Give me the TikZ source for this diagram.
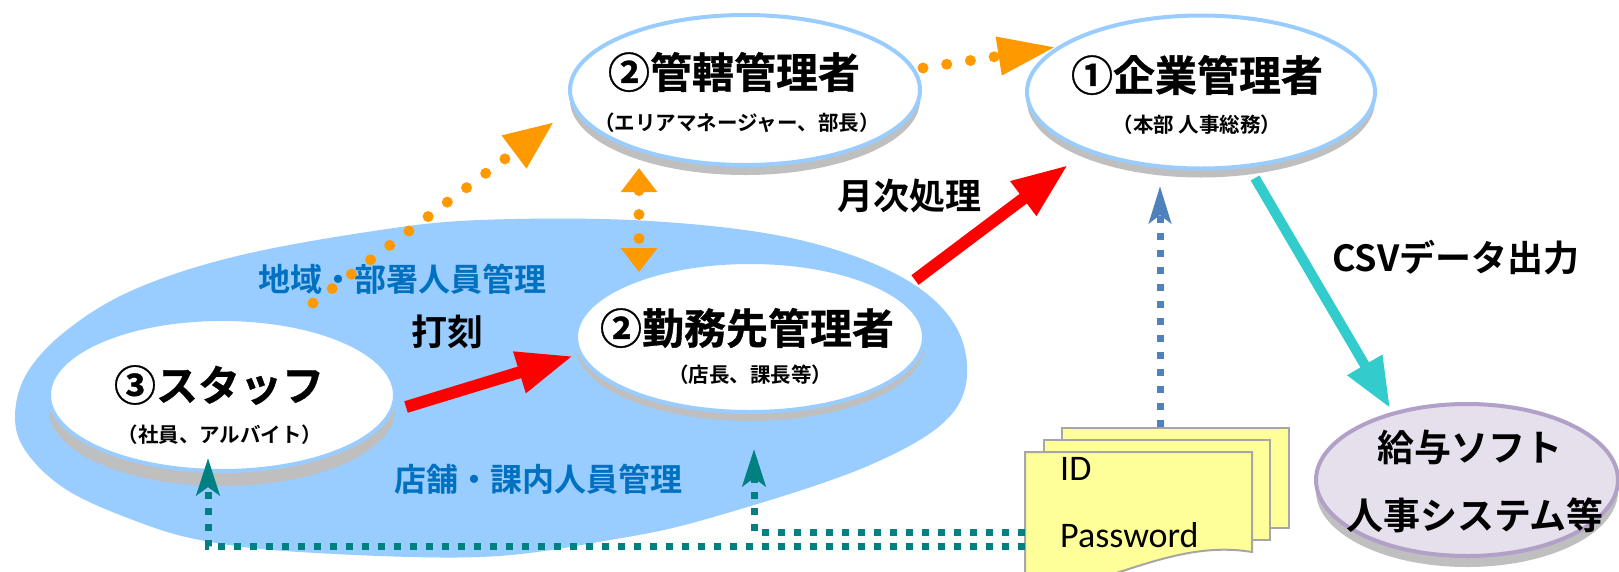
\documentclass[tikz,border=0pt]{standalone}
\usepackage{fontspec}
\usepackage{graphicx}
\newfontfamily\jp{Noto Sans CJK JP}[BoldFont={Noto Sans CJK JP Bold}]
\newfontfamily\jph{Noto Sans CJK JP Bold}[FakeBold=0.8]
\newfontfamily\lat{Carlito}
\usetikzlibrary{arrows.meta,shapes.geometric,shadows}
\definecolor{areablue}{HTML}{99CCFF}
\definecolor{shgray}{HTML}{BFBFBF}
\definecolor{orng}{HTML}{FF9900}
\definecolor{redc}{HTML}{FF0000}
\definecolor{tealsolid}{HTML}{33CCCC}
\definecolor{tealdot}{HTML}{008080}
\definecolor{bluedot}{HTML}{4F81BD}
\definecolor{labelblue}{HTML}{0070C0}
\definecolor{docyellow}{HTML}{FFFF99}
\definecolor{docgray}{HTML}{A6A6A6}
\definecolor{lav}{HTML}{E6E0EC}
\definecolor{lavline}{HTML}{B1A0C7}
\begin{document}
\begin{tikzpicture}[x=1pt,y=-1pt,
  oval/.style={ellipse, fill=white, draw=areablue, line width=4pt, inner sep=0pt},
  shd/.style={general shadow={fill=shgray, shadow yshift=-#1pt, shadow xshift=0pt}},
  ttl/.style={inner sep=0pt, font=\jph\fontsize{42}{42}\selectfont},
  subt/.style={inner sep=0pt, font=\jp\bfseries\fontsize{20.5}{20.5}\selectfont},
  lbl/.style={inner sep=0pt, font=\jp\bfseries\fontsize{#1}{#1}\selectfont},
  bluelbl/.style={inner sep=0pt, text=labelblue, font=\jp\bfseries\fontsize{32}{32}\selectfont},
  odot/.style={draw=orng, line width=11pt, line cap=round, dash pattern=on 0pt off 24pt},
  redarr/.style={draw=redc, fill=redc, line width=12pt, -{Triangle[length=56pt,width=40pt]}},
  tealarr/.style={draw=tealsolid, line width=10pt, -{Triangle[length=50pt,width=38pt]}},
  tdot/.style={draw=tealdot, line width=7pt, dash pattern=on 7pt off 9pt, -{Stealth[length=37pt,width=23pt,inset=8pt]}},
  bdot/.style={draw=bluedot, line width=7pt, dash pattern=on 7pt off 10pt, -{Stealth[length=37pt,width=22pt,inset=8pt]}},
  doc/.style={fill=docyellow, draw=docgray, line width=2pt},
  pw/.style={inner sep=0pt, anchor=base west, font=\lat\fontsize{36}{36}\selectfont}
]
\useasboundingbox (0,0) rectangle (1619,571);
\clip (0,0) rectangle (1619,571);
\fill[white] (0,0) rectangle (1619,571);

% large light-blue area
\fill[areablue] plot[smooth cycle, tension=0.6] coordinates {
  (15,417) (27,373) (67,330) (133,290) (233,257) (367,232) (480,220) (650,221)
  (800,240) (910,282) (962,340) (955,410) (870,465) (710,518) (610,540)
  (480,557) (300,552) (200,540) (133,520) (67,490) (27,453)};

% ellipse nodes
\node[oval, shd=10, minimum width=350pt, minimum height=150pt] (kan) at (745,90) {};
\node[oval, shd=9, minimum width=348pt, minimum height=153pt] (ent) at (1201,92) {};
\node[oval, shd=9, minimum width=348pt, minimum height=150pt] (kin) at (750,337) {};
\node[oval, shd=15, minimum width=346pt, minimum height=152pt] (stf) at (222,395) {};
\node[ellipse, fill=lav, draw=lavline, line width=4pt, inner sep=0pt, shd=11,
      minimum width=302pt, minimum height=152pt] (kyu) at (1467,480) {};

% texts in ellipses
\node[ttl] (kant) at (734,72) {②管轄管理者};
\node[subt] (kans) at (737,123) {（エリアマネージャー、部長）};
\node[ttl] (entt) at (1197,75) {①企業管理者};
\node[subt] (ents) at (1197,125) {（本部\hspace{5pt}人事総務）};
\node[ttl] (kint) at (747,328) {②勤務先管理者};
\node[subt] (kins) at (750,375) {（店長、課長等）};
\node[ttl] (stft) at (219,385) {③スタッフ};
\node[subt] (stfs) at (220,435) {（社員、アルバイト）};
\node[lbl=37] (kyu1) at (1470,447) {給与ソフト};
\node[lbl=37] (kyu2) at (1475,515) {人事システム等};

% labels
\node[lbl=36] (getsuji) at (909,196) {月次処理};
\node[lbl=36] (csv) at (1456,258) {CSVデータ出力};
\node[bluelbl] (chiiki) at (402,279) {地域・部署人員管理};
\node[lbl=36] (dakoku) at (447,332) {打刻};
\node[bluelbl] (tenpo) at (538,479) {店舗・課内人員管理};

% documents
\node[doc, minimum width=227pt, minimum height=100pt, inner sep=0pt, anchor=north west] (docb) at (1061,427) {};
\node[doc, minimum width=226pt, minimum height=100pt, inner sep=0pt, anchor=north west] (docm) at (1043,439) {};
\coordinate (docftl) at (1025,452);
\coordinate (docftr) at (1252,452);
\coordinate (docfbr) at (1252,552);
\coordinate (docfbl) at (1025,600);
\filldraw[doc] (docftl) -- (docftr) -- (docfbr)
  .. controls (1180,540) and (1120,578) .. (docfbl) -- cycle;
\node[pw] (id) at (1060,480) {ID};
\node[pw] (pass) at (1060,547) {Password};

% named end points
\coordinate (o1s) at (313,303);
\coordinate (o1e) at (554,122);
\coordinate (o2s) at (923,68);
\coordinate (o2e) at (1056,47);
\coordinate (o3s) at (639,168);
\coordinate (o3e) at (639,272);
\coordinate (r1s) at (406,407);
\coordinate (r1e) at (573,356);
\coordinate (r2s) at (915,280);
\coordinate (r2e) at (1068,165);
\coordinate (t1s) at (1255,178);
\coordinate (t1e) at (1390,408);
\coordinate (b1s) at (1160,427);
\coordinate (b1e) at (1160,186);
\coordinate (d1s) at (1025,546);
\coordinate (d1c) at (208,546);
\coordinate (d1e) at (208,458);
\coordinate (d2s) at (1025,532);
\coordinate (d2c) at (754,532);
\coordinate (d2e) at (754,449);

% connectors
\draw[odot, -{Triangle[length=50pt,width=38pt]}] (o1s) -- (o1e);
\draw[odot, -{Triangle[length=58pt,width=36pt]}] (o2s) -- (o2e);
\draw[odot, {Triangle[length=24pt,width=35pt]}-{Triangle[length=24pt,width=35pt]}] (o3s) -- (o3e);
\draw[redarr] (r1s) -- (r1e);
\draw[redarr] (r2s) -- (r2e);
\draw[tealarr] (t1s) -- (t1e);
\draw[bdot] (b1s) -- (b1e);
\draw[tdot] (d1s) -- (d1c) -- (d1e);
\draw[tdot] (d2s) -- (d2c) -- (d2e);
\end{tikzpicture}
\end{document}
